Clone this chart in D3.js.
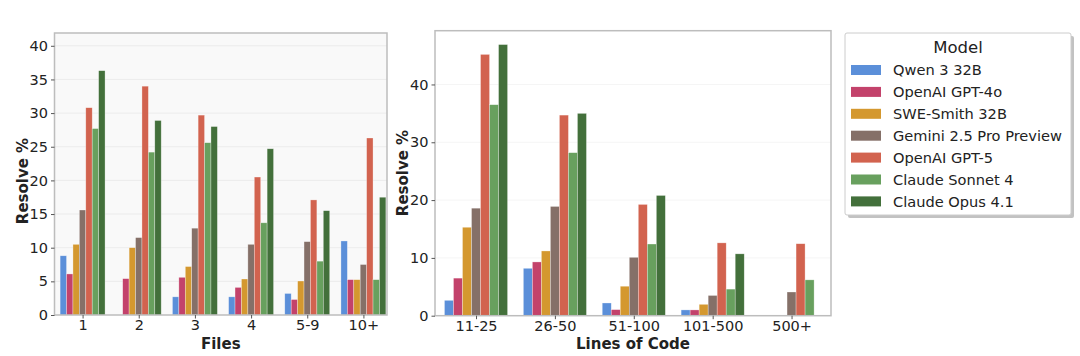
<!DOCTYPE html>
<html><head><meta charset="utf-8">
<script src="https://cdn.jsdelivr.net/npm/d3@7"></script>
<style>
html,body{margin:0;padding:0;background:#fff;}
svg{display:block;font-family:"DejaVu Sans",sans-serif;}
</style></head>
<body><svg id="c" width="1080" height="356"></svg>
<script>
const models = ["Qwen 3 32B","OpenAI GPT-4o","SWE-Smith 32B","Gemini 2.5 Pro Preview","OpenAI GPT-5","Claude Sonnet 4","Claude Opus 4.1"];
const colors = ["#5b8fd9","#c3426b","#d4982f","#857068","#d2634f","#68a05e","#43703b"];

const fileCats = ["1","2","3","4","5-9","10+"];
// values per model across file categories
const fileQwen   = [8.8, 0,   2.7, 2.7, 3.2, 11.0];
const fileGPT4o  = [6.1, 5.4, 5.6, 4.1, 2.3, 5.25];
const fileSWE    = [10.5,10.0,7.2, 5.35,5.05,5.25];
const fileGemini = [15.6,11.5,12.9,10.5,10.9,7.5];
const fileGPT5   = [30.8,34.0,29.7,20.5,17.1,26.3];
const fileSonnet = [27.7,24.2,25.6,13.7,8.0, 5.25];
const fileOpus   = [36.3,28.9,28.0,24.7,15.5,17.5];
const fileTicks  = [0,5,10,15,20,25,30,35,40];

const locCats = ["11-25","26-50","51-100","101-500","500+"];
const locQwen   = [2.66,8.2, 2.2, 1.0, 0];
const locGPT4o  = [6.5, 9.3, 1.05,1.0, 0];
const locSWE    = [15.3,11.2,5.1, 1.97,0];
const locGemini = [18.6,18.9,10.1,3.5, 4.1];
const locGPT5   = [45.2,34.7,19.25,12.6,12.45];
const locSonnet = [36.5,28.2,12.4,4.6, 6.2];
const locOpus   = [46.9,35.0,20.8,10.7,0];
const locTicks  = [0,10,20,30,40];

const fileSeries = [fileQwen,fileGPT4o,fileSWE,fileGemini,fileGPT5,fileSonnet,fileOpus];
const locSeries  = [locQwen,locGPT4o,locSWE,locGemini,locGPT5,locSonnet,locOpus];

const svg = d3.select("#c");

function panel(cfg){
  const g = svg.append("g");
  const x = d3.scaleLinear().domain(cfg.xdom).range([cfg.x0,cfg.x1]);
  const y = d3.scaleLinear().domain(cfg.ydom).range([cfg.y0,cfg.y1]);
  g.append("rect").attr("x",cfg.x0).attr("y",cfg.y1).attr("width",cfg.x1-cfg.x0).attr("height",cfg.y0-cfg.y1)
    .attr("fill",cfg.bg);
  // grid
  g.selectAll(".grid").data(cfg.ticks.filter(t=>t>0)).join("line")
    .attr("x1",cfg.x0).attr("x2",cfg.x1).attr("y1",d=>y(d)).attr("y2",d=>y(d))
    .attr("stroke",cfg.grid).attr("stroke-width",0.8);
  const n = cfg.series.length, bw = 0.8/n;
  cfg.series.forEach((s,i)=>{
    g.selectAll(null).data(s.map((v,j)=>({v,j}))).join("rect")
      .filter(d=>d.v>0)
      .attr("x",d=>x(d.j-0.4+i*bw)).attr("width",d=>x(bw)-x(0))
      .attr("y",d=>y(d.v)).attr("height",d=>y(0)-y(d.v))
      .attr("fill",colors[i]).attr("stroke","#ffffff").attr("stroke-opacity",0.5).attr("stroke-width",0.6);
  });
  // frame
  g.append("rect").attr("x",cfg.x0).attr("y",cfg.y1).attr("width",cfg.x1-cfg.x0).attr("height",cfg.y0-cfg.y1)
    .attr("fill","none").attr("stroke","#bdbdbd").attr("stroke-width",1.5);
  // axes
  const ya = d3.axisLeft(y).tickValues(cfg.ticks).tickSize(3.5).tickPadding(3);
  const yg = g.append("g").attr("transform",`translate(${cfg.x0},0)`).call(ya);
  const xa = d3.axisBottom(x).tickValues(cfg.cats.map((c,i)=>i)).tickFormat(i=>cfg.cats[i]).tickSize(3.5).tickPadding(1.5);
  const xg = g.append("g").attr("transform",`translate(0,${cfg.y0})`).call(xa);
  [yg,xg].forEach(a=>{
    a.select(".domain").remove();
    a.selectAll(".tick line").attr("stroke","#555");
    a.selectAll(".tick text").attr("fill","#222").style("font-size","14.5px").style("font-family","DejaVu Sans");
  });
  g.append("text").attr("x",(cfg.x0+cfg.x1)/2).attr("y",349).attr("text-anchor","middle")
    .style("font-weight","bold").style("font-size","15px").attr("fill","#222").text(cfg.xlabel);
  g.append("text").attr("transform",`translate(${cfg.ylx},${cfg.yly}) rotate(-90)`).attr("text-anchor","middle")
    .attr("dy","0.35em").style("font-weight","bold").style("font-size","15px").attr("fill","#222").text("Resolve %");
}

panel({xdom:[-0.5,5.42],x0:54.5,x1:387,ydom:[0,41.9],y0:315,y1:33,ticks:fileTicks,cats:fileCats,
  series:fileSeries,bg:"#f9f9f9",grid:"#e9e9e9",xlabel:"Files",ylx:23,yly:181});
panel({xdom:[-0.52,4.5],x0:435,x1:831,ydom:[0,49.3],y0:315.7,y1:30.7,ticks:locTicks,cats:locCats,
  series:locSeries,bg:"#ffffff",grid:"#f2f2f2",xlabel:"Lines of Code",ylx:403,yly:173});

// legend
const lg = svg.append("g");
const lx=845, ly=33, lw=226, lh=182;
lg.append("rect").attr("x",lx+3).attr("y",ly+3).attr("width",lw).attr("height",lh).attr("fill","#9a9a9a").attr("rx",2).attr("opacity",0.6);
lg.append("rect").attr("x",lx).attr("y",ly).attr("width",lw).attr("height",lh).attr("fill","#ffffff").attr("stroke","#cccccc").attr("stroke-width",1).attr("rx",2);
lg.append("text").attr("x",958).attr("y",53).attr("text-anchor","middle").style("font-size","16.5px").attr("fill","#222").text("Model");
const rows = lg.selectAll(".row").data(models).join("g").attr("transform",(d,i)=>`translate(0,${70+i*21.9})`);
rows.append("rect").attr("x",851).attr("y",-5).attr("width",30).attr("height",10).attr("fill",(d,i)=>colors[i]);
rows.append("text").attr("x",893).attr("y",0).attr("dy","0.36em").style("font-size","14.6px").attr("fill","#222").text(d=>d);
</script></body></html>
